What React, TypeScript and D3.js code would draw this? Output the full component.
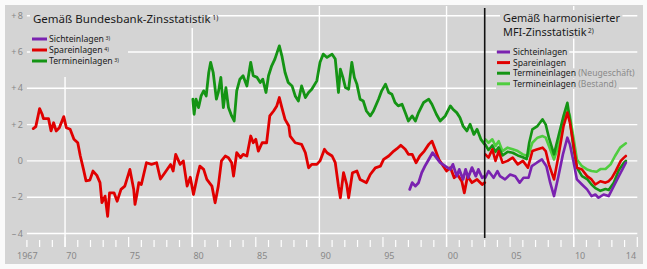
import React, { useEffect, useRef } from 'react';
import * as d3 from 'd3';

const W = 647;
const H = 269;

const yTicks = [8, 6, 4, 2, 0, -2, -4];
const yTickLabels = ['+\u20098', '+\u20096', '+\u20094', '+\u20092', '0', '\u2013\u20092', '\u2013\u20094'];
const decadeYears = [1970, 1980, 1990, 2000, 2010];
const xLabelYears = [1967, 1970, 1975, 1980, 1985, 1990, 1995, 2000, 2005, 2010, 2014];
const xLabels = ['1967', '70', '75', '80', '85', '90', '95', '00', '05', '10', '14'];
const breakYear = 2003;

// Bundesbank-Zinsstatistik
const sparBB: [number, number][] = [
  [1967.5, 1.78], [1967.7, 1.89], [1968.0, 2.88], [1968.2, 2.57], [1968.3, 2.33], [1968.7, 2.33],
  [1968.9, 1.65], [1969.1, 2.1], [1969.3, 1.65], [1969.55, 1.83], [1969.9, 2.44], [1970.1, 1.83],
  [1970.4, 1.74], [1970.7, 1.19], [1971.0, 1.0], [1971.2, 0.27], [1971.45, -0.47], [1971.65, -1.1],
  [1971.95, -1.06], [1972.2, -0.56], [1972.5, -0.8], [1972.75, -1.2], [1972.9, -2.3], [1973.15, -1.94],
  [1973.35, -3.05], [1973.5, -1.76], [1973.85, -1.76], [1974.1, -2.22], [1974.4, -1.57], [1974.7, -1.39],
  [1975.1, -0.47], [1975.4, -1.57], [1975.5, -2.4], [1975.65, -1.85], [1975.8, -1.2], [1976.0, -1.3],
  [1976.4, -0.1], [1976.8, -0.19], [1977.2, -0.1], [1977.5, -1.0], [1977.85, -0.65], [1978.3, -0.2],
  [1978.5, -0.56], [1978.7, 0.36], [1979.05, -0.19], [1979.3, 0], [1979.6, -1.39], [1979.85, -0.9],
  [1980.1, -1.85], [1980.4, -0.84], [1980.6, -0.29], [1980.9, -0.47], [1981.15, -1.02], [1981.55, -1.39],
  [1981.8, -2.31], [1982.05, -1.39], [1982.3, 0], [1982.6, 0.27], [1982.85, 0.18], [1983.1, -0.1],
  [1983.25, -0.84], [1983.5, 0.45], [1983.8, 0.18], [1984.0, 0.36], [1984.3, 0.27], [1984.6, 1.37],
  [1984.8, 1.0], [1985.0, 1.19], [1985.2, 0.54], [1985.5, 1.0], [1985.85, 1.0], [1986.1, 2.48],
  [1986.4, 2.75], [1986.65, 3.03], [1986.85, 3.49], [1987.05, 2.94], [1987.3, 2.29], [1987.6, 1.92],
  [1987.7, 1.37], [1988.1, 1.0], [1988.6, 0.91], [1988.9, 0.45], [1989.15, -0.38], [1989.4, -0.19],
  [1989.8, -0.19], [1990.05, 0], [1990.4, 0.64], [1990.6, 0.45], [1991.0, 0.27], [1991.25, -0.1],
  [1991.5, -1.39], [1991.65, -2.03], [1991.9, -0.65], [1992.15, -1.3], [1992.3, -2.03], [1992.6, -0.65],
  [1992.95, -0.56], [1993.2, -1.02], [1993.7, -1.2], [1994.0, -0.75], [1994.4, -0.38], [1994.8, -0.29],
  [1995.05, 0.08], [1995.45, 0.27], [1995.85, 0.54], [1996.1, 0.67], [1996.4, 0.86], [1996.75, 0.64],
  [1997.0, 0.36], [1997.3, 0.36], [1997.6, -0.1], [1997.9, 0.27], [1998.25, 0.54], [1998.6, 0.91],
  [1998.85, 1.09], [1999.1, 0.64], [1999.4, 0.08], [1999.75, -0.29], [2000.0, -0.56], [2000.3, -0.37],
  [2000.6, -0.93], [2000.85, -0.75], [2001.2, -1.12], [2001.4, -1.76], [2001.65, -0.84], [2002.0, -1.2],
  [2002.4, -1.02], [2002.8, -1.3], [2003.0, -1.2],
];

const termBB: [number, number][] = [
  [1980.05, 3.4], [1980.15, 2.57], [1980.3, 3.4], [1980.5, 2.94], [1980.7, 3.58], [1980.9, 3.86],
  [1981.1, 3.58], [1981.3, 4.87], [1981.45, 5.43], [1981.65, 4.87], [1981.9, 3.4], [1982.05, 3.77],
  [1982.25, 4.6], [1982.45, 2.94], [1982.65, 4.04], [1982.85, 2.94], [1983.1, 2.48], [1983.3, 2.2],
  [1983.5, 3.86], [1983.75, 4.5], [1984.0, 4.69], [1984.3, 4.13], [1984.6, 5.43], [1984.8, 4.69],
  [1985.1, 4.6], [1985.35, 4.32], [1985.55, 4.5], [1985.8, 3.77], [1986.0, 4.69], [1986.25, 5.24],
  [1986.5, 5.61], [1986.85, 6.34], [1987.05, 5.79], [1987.3, 4.87], [1987.55, 4.32], [1987.85, 4.13],
  [1988.1, 3.58], [1988.35, 3.3], [1988.6, 4.13], [1988.9, 3.49], [1989.15, 3.77], [1989.4, 3.95],
  [1989.8, 4.41], [1990.05, 5.43], [1990.3, 5.88], [1990.6, 5.7], [1991.0, 5.88], [1991.25, 5.61],
  [1991.5, 3.77], [1991.65, 5.06], [1991.85, 4.6], [1992.05, 4.04], [1992.3, 3.95], [1992.55, 5.43],
  [1992.75, 4.6], [1992.95, 4.23], [1993.2, 3.4], [1993.45, 3.3], [1993.7, 2.75], [1994.0, 2.48],
  [1994.25, 2.75], [1994.65, 3.4], [1994.9, 3.86], [1995.2, 4.23], [1995.45, 3.77], [1995.7, 3.67],
  [1995.95, 3.22], [1996.2, 3.03], [1996.5, 3.12], [1996.75, 2.66], [1997.0, 2.2], [1997.3, 2.48],
  [1997.55, 2.2], [1997.8, 2.66], [1998.2, 3.22], [1998.6, 3.4], [1998.85, 3.12], [1999.2, 2.57],
  [1999.5, 2.2], [1999.9, 2.48], [2000.3, 3.03], [2000.5, 2.85], [2000.8, 2.66], [2001.05, 2.39],
  [2001.3, 1.92], [2001.6, 1.65], [2001.85, 2.02], [2002.15, 1.46], [2002.4, 1.74], [2002.7, 1.19],
  [2003.0, 0.91],
];

const sichtBB: [number, number][] = [
  [1997.1, -1.57], [1997.3, -1.2], [1997.55, -1.39], [1997.8, -1.2], [1998.05, -0.65], [1998.3, -0.29],
  [1998.6, 0.08], [1998.9, 0.45], [1999.2, 0.18], [1999.5, -0.1], [1999.9, -0.29], [2000.3, -0.47],
  [2000.5, -0.19], [2000.8, -0.84], [2001.0, -0.47], [2001.3, -1.02], [2001.5, -0.47], [2001.7, -0.93],
  [2002.0, -0.37], [2002.3, -0.84], [2002.5, -0.47], [2002.8, -0.93], [2003.0, -0.84],
];

// Harmonisierte MFI-Zinsstatistik
const sichtMFI: [number, number][] = [
  [2003.05, -0.93], [2003.3, -0.56], [2003.7, -0.93], [2004.0, -0.56], [2004.2, -0.84], [2004.6, -1.02],
  [2005.0, -0.75], [2005.4, -0.84], [2005.75, -1.2], [2006.05, -0.93], [2006.45, -0.93], [2006.7, -0.29],
  [2007.1, -0.1], [2007.5, 0.08], [2007.85, -0.29], [2008.15, -1.2], [2008.45, -1.94], [2008.8, -0.84],
  [2009.15, 0.36], [2009.5, 1.28], [2009.7, 0.91], [2010.0, -0.1], [2010.25, -1.02], [2010.65, -1.3],
  [2011.05, -1.57], [2011.4, -1.94], [2011.7, -1.85], [2011.95, -2.03], [2012.35, -1.85], [2012.75, -1.94],
  [2013.15, -1.39], [2013.55, -0.84], [2013.9, -0.37], [2014.1, -0.1],
];

const sparMFI: [number, number][] = [
  [2003.05, 0.36], [2003.3, 0.18], [2003.6, 0.64], [2003.85, 0], [2004.1, 0.54], [2004.4, -0.1],
  [2004.8, 0], [2005.2, 0.18], [2005.6, -0.19], [2006.0, 0], [2006.4, -0.37], [2006.75, 0.54],
  [2007.15, 0.64], [2007.55, 0.73], [2007.8, 0.54], [2008.05, -0.19], [2008.45, -1.02], [2008.8, 0.27],
  [2009.2, 1.92], [2009.5, 2.66], [2009.7, 2.11], [2010.0, 0.82], [2010.25, -0.37], [2010.65, -0.47],
  [2011.05, -0.84], [2011.4, -1.02], [2011.7, -1.3], [2012.1, -1.12], [2012.5, -1.2], [2012.75, -1.12],
  [2013.0, -0.93], [2013.3, -0.56], [2013.7, 0], [2013.95, 0.18], [2014.1, 0.27],
];

const termNeu: [number, number][] = [
  [2003.05, 0.9], [2003.3, 0.6], [2003.6, 0.85], [2003.85, 0.5], [2004.1, 0.75], [2004.4, 0.3],
  [2004.8, 0.5], [2005.2, 0.45], [2005.6, 0.3], [2006.0, 0.2], [2006.3, 0.1], [2006.5, 1.0],
  [2006.75, 1.74], [2007.15, 1.92], [2007.55, 2.29], [2007.8, 2.0], [2008.05, 1.28], [2008.45, 0.36],
  [2008.8, 1.37], [2009.2, 2.48], [2009.5, 3.2], [2009.7, 2.29], [2010.0, 0.64], [2010.25, -0.37],
  [2010.65, -0.84], [2011.05, -1.0], [2011.4, -1.3], [2011.7, -1.5], [2012.1, -1.65], [2012.5, -1.55],
  [2012.75, -1.6], [2013.15, -1.2], [2013.55, -0.5], [2013.95, -0.1], [2014.1, 0.0],
];

const termBestand: [number, number][] = [
  [2003.05, 1.19], [2003.3, 1.0], [2003.6, 1.19], [2003.85, 0.82], [2004.1, 1.09], [2004.4, 0.54],
  [2004.8, 0.73], [2005.2, 0.64], [2005.6, 0.54], [2006.0, 0.36], [2006.4, 0.27], [2006.75, 1.0],
  [2007.15, 1.28], [2007.55, 1.37], [2007.8, 1.28], [2008.05, 0.82], [2008.45, 0.08], [2008.8, 0.82],
  [2009.2, 2.11], [2009.5, 2.85], [2009.7, 2.48], [2010.0, 1.19], [2010.25, 0.08], [2010.65, -0.29],
  [2011.05, -0.47], [2011.4, -0.56], [2011.8, -0.6], [2012.1, -0.45], [2012.5, -0.45], [2012.9, -0.19],
  [2013.25, 0.27], [2013.65, 0.73], [2014.1, 0.97],
];

const C_SICHT = '#7a22b0';
const C_SPAR = '#e00000';
const C_TERM = '#149414';
const C_TERM2 = '#4fcd3f';
const BG = '#d4d4d4';
const FONT = "'Noto Sans', 'Open Sans', sans-serif";

export default function App() {
  const ref = useRef<SVGSVGElement>(null);

  useEffect(() => {
    const svg = d3.select(ref.current);
    svg.selectAll('*').remove();

    const x = d3.scaleLinear().domain([1967, 2015]).range([26.9, 637.3]);
    const y = d3.scaleLinear().domain([-4, 8]).range([233.5, 15.7]);

    svg.append('rect').attr('width', W).attr('height', H).attr('fill', '#fafafa');
    svg.append('rect').attr('x', 5).attr('y', 5).attr('width', 638).attr('height', 259).attr('fill', BG);

    const grid = svg.append('g').attr('stroke', '#fff').attr('stroke-width', 1.4);
    yTicks.forEach((t) => {
      grid.append('line').attr('x1', x(1967)).attr('x2', x(2015)).attr('y1', y(t)).attr('y2', y(t));
    });
    decadeYears.forEach((yr) => {
      grid.append('line').attr('x1', x(yr)).attr('x2', x(yr)).attr('y1', 6).attr('y2', 247);
    });
    d3.range(1967, 2016).forEach((yr) => {
      const major = yr % 5 === 0;
      grid.append('line').attr('x1', x(yr)).attr('x2', x(yr))
        .attr('y1', major ? 237 : 240).attr('y2', 247).attr('stroke-width', 1.2);
    });

    const axisText = svg.append('g').attr('font-family', FONT).attr('font-size', 9).attr('fill', '#888');
    yTicks.forEach((t, i) => {
      axisText.append('text').attr('x', 23).attr('y', y(t) + 3).attr('text-anchor', 'end').text(yTickLabels[i]);
    });
    xLabelYears.forEach((yr, i) => {
      if (i === 0) {
        axisText.append('text').attr('x', x(yr + 1) - 2).attr('y', 259).attr('text-anchor', 'end').text(xLabels[i]);
      } else {
        axisText.append('text').attr('x', x(yr + 0.5)).attr('y', 259).attr('text-anchor', 'middle').text(xLabels[i]);
      }
    });

    // left title & legend boxes (hide gridlines)
    svg.append('rect').attr('x', 30).attr('y', 6).attr('width', 178).attr('height', 22).attr('fill', BG);
    svg.append('rect').attr('x', 30).attr('y', 28).attr('width', 98).attr('height', 49).attr('fill', BG);

    const line = d3.line<[number, number]>().x((d) => x(d[0])).y((d) => y(d[1])).curve(d3.curveLinear);
    const drawLine = (data: [number, number][], color: string, w: number) => {
      svg.append('path').attr('d', line(data) as string).attr('fill', 'none').attr('stroke', color)
        .attr('stroke-width', w).attr('stroke-linejoin', 'round').attr('stroke-linecap', 'round');
    };
    drawLine(termBB, C_TERM, 2.8);
    drawLine(sparBB, C_SPAR, 2.8);
    drawLine(sichtBB, C_SICHT, 2.8);
    drawLine(termBestand, C_TERM2, 2.6);
    drawLine(termNeu, C_TERM, 2.6);
    drawLine(sparMFI, C_SPAR, 2.6);
    drawLine(sichtMFI, C_SICHT, 2.6);

    svg.append('line').attr('x1', x(breakYear)).attr('x2', x(breakYear)).attr('y1', 8).attr('y2', 238)
      .attr('stroke', '#111').attr('stroke-width', 1.6);

    const addText = (g: any, tx: number, ty: number, size: number, parts: { t: string; sup?: boolean; grey?: boolean }[], color = '#1a1a1a') => {
      const txt = g.append('text').attr('x', tx).attr('y', ty).attr('font-family', FONT).attr('font-size', size).attr('fill', color);
      parts.forEach((p) => {
        const ts = txt.append('tspan').text(p.t);
        if (p.sup) ts.attr('font-size', size * 0.6).attr('baseline-shift', '40%').attr('dx', 1.5);
        if (p.grey) ts.attr('fill', '#8a8a8a');
      });
      return txt;
    };

    const legendLeft = svg.append('g');
    addText(legendLeft, 33, 23, 11.5, [{ t: 'Gemäß Bundesbank-Zinsstatistik' }, { t: '1)', sup: true }]);
    const leftItems = [
      { label: 'Sichteinlagen', sup: '3)', color: C_SICHT },
      { label: 'Spareinlagen', sup: '4)', color: C_SPAR },
      { label: 'Termineinlagen', sup: '3)', color: C_TERM },
    ];
    leftItems.forEach((it, i) => {
      const cy = 39 + i * 11;
      legendLeft.append('line').attr('x1', 32).attr('x2', 47).attr('y1', cy).attr('y2', cy)
        .attr('stroke', it.color).attr('stroke-width', 3);
      addText(legendLeft, 49, cy + 3.2, 8.7, [{ t: it.label }, { t: it.sup, sup: true }]);
    });

    const legendRight = svg.append('g');
    const t1 = addText(legendRight, 503, 22, 10.9, [{ t: 'Gemäß harmonisierter' }]);
    const t2 = addText(legendRight, 503, 35.5, 10.9, [{ t: 'MFI-Zinsstatistik' }, { t: '2)', sup: true }]);
    [t1, t2].forEach((t) => {
      const bb = (t.node() as SVGTextElement).getBBox();
      legendRight.insert('rect', ':first-child').attr('x', bb.x - 3).attr('y', bb.y).attr('width', bb.width + 5)
        .attr('height', bb.height).attr('fill', BG);
    });
    const rightItems = [
      { parts: [{ t: 'Sichteinlagen' }], color: C_SICHT },
      { parts: [{ t: 'Spareinlagen' }], color: C_SPAR },
      { parts: [{ t: 'Termineinlagen' }, { t: ' (Neugeschäft)', grey: true }], color: C_TERM },
      { parts: [{ t: 'Termineinlagen' }, { t: ' (Bestand)', grey: true }], color: C_TERM2 },
    ];
    rightItems.forEach((it, i) => {
      const cy = 52 + i * 10.6;
      const t = addText(legendRight, 513, cy + 3.1, 8.6, it.parts);
      const bb = (t.node() as SVGTextElement).getBBox();
      legendRight.insert('rect', ':first-child').attr('x', 496).attr('y', bb.y + 1)
        .attr('width', bb.x + bb.width + 2 - 496).attr('height', bb.height - 2).attr('fill', BG);
      legendRight.append('line').attr('x1', 497).attr('x2', 510).attr('y1', cy).attr('y2', cy)
        .attr('stroke', it.color).attr('stroke-width', 3);
    });
  }, []);

  return (
    <svg ref={ref} width={W} height={H} style={{ position: 'absolute', left: 0, top: 0, display: 'block' }} />
  );
}
